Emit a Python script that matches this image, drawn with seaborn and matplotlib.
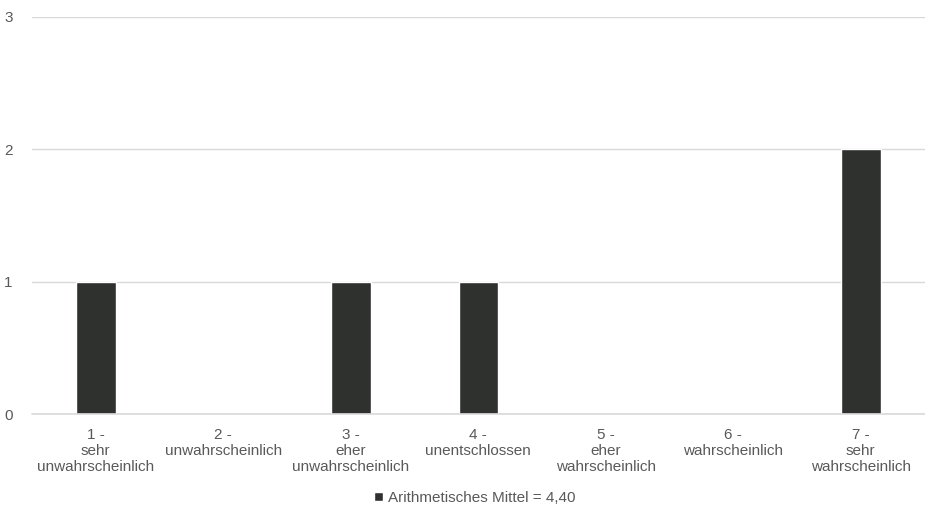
import matplotlib
matplotlib.use('Agg')
import matplotlib.pyplot as plt
import seaborn as sns
import pandas as pd

# data
categories = ['1 -\nsehr\nunwahrscheinlich', '2 -\nunwahrscheinlich', '3 -\neher\nunwahrscheinlich',
              '4 -\nunentschlossen', '5 -\neher\nwahrscheinlich', '6 -\nwahrscheinlich',
              '7 -\nsehr\nwahrscheinlich']
counts = [1, 0, 1, 1, 0, 0, 2]
series_label = 'Arithmetisches Mittel = 4,40'
y_ticks = [0, 1, 2, 3]

df = pd.DataFrame({'cat': categories, 'n': counts})

sns.set_style('white')
plt.rcParams['font.family'] = ['Liberation Sans', 'DejaVu Sans']

fig = plt.figure(figsize=(9.25, 5.07), dpi=100)
ax = fig.add_axes([0.0346, 0.1834, 0.965, 0.7831])

sns.barplot(data=df, x='cat', y='n', color='#2f312f', saturation=1, width=0.31,
            label=series_label, ax=ax, zorder=3)

ax.set_ylim(0, 3)
ax.set_yticks(y_ticks)
ax.yaxis.grid(True, color='#d9d9d9', linewidth=1, zorder=0)
# baseline (grid line at 0 gets clipped at the axes edge)
ax.axhline(0, color='#d9d9d9', linewidth=1.2, clip_on=False, zorder=4)
ax.set_xlabel('')
ax.set_ylabel('')
for s in ax.spines.values():
    s.set_visible(False)
ax.tick_params(axis='both', length=0, labelcolor='#595959', labelsize=11)
ax.tick_params(axis='y', pad=14)
ax.tick_params(axis='x', pad=10)
for t in ax.get_xticklabels():
    t.set_linespacing(1.2)
ax.set_xlim(-0.5, 6.5)

handles, labels = ax.get_legend_handles_labels()
if ax.get_legend() is not None:
    ax.get_legend().remove()
fig.legend(handles, labels, loc='center', bbox_to_anchor=(0.513, 0.018), frameon=False,
           handlelength=0.6, handleheight=0.6, handletextpad=0.3,
           prop={'size': 11}, labelcolor='#595959')

fig.savefig('out.png', dpi=100, facecolor='white')
